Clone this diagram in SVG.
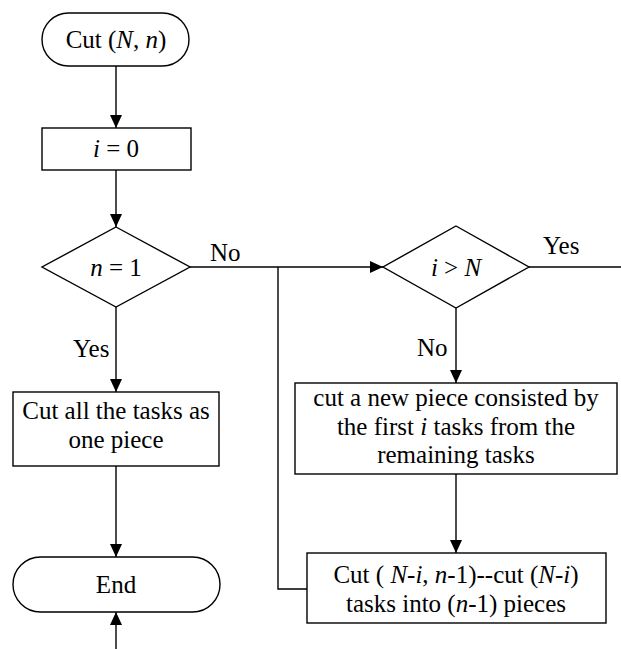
<svg xmlns="http://www.w3.org/2000/svg" width="621" height="649" viewBox="0 0 621 649" font-family="'Liberation Serif', 'Times New Roman', serif" font-size="25">
  <defs>
    <marker id="arrow" markerUnits="userSpaceOnUse" markerWidth="13" markerHeight="12" refX="13" refY="6" orient="auto">
      <path d="M0,0 L13,6 L0,12 z" fill="#000"/>
    </marker>
    <style>
      .shape { fill: #fff; stroke: #000; stroke-width: 1.4; }
      .line { fill: none; stroke: #000; stroke-width: 1.4; }
      .arr { marker-end: url(#arrow); }
      .c { text-anchor: middle; }
      .m { font-style: italic; }
    </style>
  </defs>
  <rect width="621" height="649" fill="#fff"/>

  <g id="connectors">
    <path class="line arr" d="M116,66 V128"/>
    <path class="line arr" d="M116,170 V227"/>
    <path class="line arr" d="M190,267 H383"/>
    <path class="line arr" d="M116,307 V392"/>
    <path class="line arr" d="M116,466 V557"/>
    <path class="line arr" d="M116,649 V612"/>
    <path class="line" d="M529,267 H621"/>
    <path class="line arr" d="M456,308 V383"/>
    <path class="line arr" d="M456,474 V553"/>
    <path class="line" d="M307,589 H278 V267"/>
    <text x="210" y="261">No</text>
    <text x="73" y="357">Yes</text>
    <text x="543" y="254">Yes</text>
    <text x="417" y="356">No</text>
  </g>

  <g id="start">
    <rect class="shape" x="42" y="13" width="147" height="53" rx="26.5"/>
    <text class="c" x="116" y="48">Cut (<tspan class="m">N</tspan>, <tspan class="m">n</tspan>)</text>
  </g>

  <g id="init">
    <rect class="shape" x="42" y="128" width="149" height="42"/>
    <text class="c" x="116" y="157"><tspan class="m">i</tspan> = 0</text>
  </g>

  <g id="check-n">
    <polygon class="shape" points="116,227 190,267 116,307 42,267"/>
    <text class="c" x="116" y="276"><tspan class="m">n</tspan> = 1</text>
  </g>

  <g id="whole">
    <rect class="shape" x="13" y="392" width="206" height="74"/>
    <text class="c" x="116" y="419">Cut all the tasks as</text>
    <text class="c" x="116" y="448">one piece</text>
  </g>

  <g id="end">
    <rect class="shape" x="13" y="557" width="207" height="55" rx="27.5"/>
    <text class="c" x="116" y="593">End</text>
  </g>

  <g id="check-i">
    <polygon class="shape" points="456,226 529,267 456,308 383,267"/>
    <text class="c" x="456" y="276"><tspan class="m">i</tspan> &gt; <tspan class="m">N</tspan></text>
  </g>

  <g id="new-piece">
    <rect class="shape" x="295" y="383" width="322" height="91"/>
    <text class="c" x="456" y="406">cut a new piece consisted by</text>
    <text class="c" x="456" y="435">the first <tspan class="m">i</tspan> tasks from the</text>
    <text class="c" x="456" y="463">remaining tasks</text>
  </g>

  <g id="recurse">
    <rect class="shape" x="307" y="553" width="299" height="70"/>
    <text class="c" x="456" y="583">Cut ( <tspan class="m">N</tspan>-<tspan class="m">i</tspan>, <tspan class="m">n</tspan>-1)--cut (<tspan class="m">N</tspan>-<tspan class="m">i</tspan>)</text>
    <text class="c" x="456" y="612">tasks into (<tspan class="m">n</tspan>-1) pieces</text>
  </g>
</svg>
